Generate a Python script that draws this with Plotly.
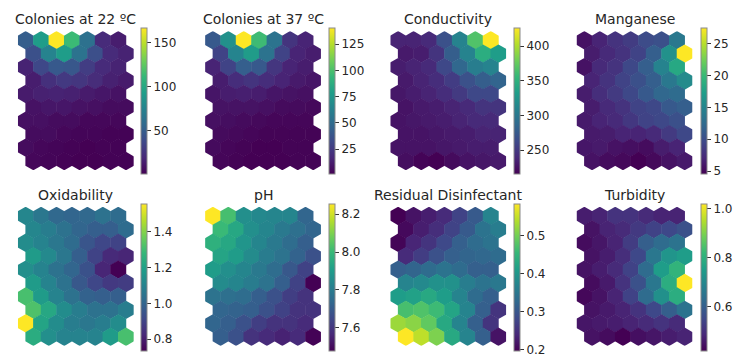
import math
import plotly.graph_objects as go

# ---------------- data (10 rows x 7 columns, top row first) ----------------
titles = ["Colonies at 22 ºC", "Colonies at 37 ºC", "Conductivity", "Manganese",
          "Oxidability", "pH", "Residual Disinfectant", "Turbidity"]

colonies_22 = [
    [50, 92, 166, 113, 62, 21, 14],
    [42, 75, 92, 64, 41, 21, 17],
    [17, 37, 47, 46, 31, 21, 17],
    [14, 24, 29, 27, 22, 16, 13],
    [13, 16, 17, 16, 13, 11, 9],
    [9, 11, 11, 9, 8, 6, 6],
    [8, 8, 6, 6, 4, 4, 4],
    [6, 6, 4, 3, 3, 2, 2],
    [6, 4, 3, 2, 1, 2, 2],
    [4, 3, 2, 1, 1, 2, 2],
]
colonies_37 = [
    [40, 71, 140, 96, 54, 22, 15],
    [29, 64, 77, 54, 29, 15, 12],
    [15, 29, 43, 40, 23, 15, 12],
    [12, 19, 22, 19, 15, 11, 9],
    [9, 12, 13, 12, 9, 8, 7],
    [8, 8, 8, 7, 5, 5, 4],
    [7, 6, 5, 4, 3, 3, 3],
    [5, 4, 3, 2, 2, 2, 2],
    [5, 3, 2, 1, 1, 2, 2],
    [3, 2, 1, 1, 1, 2, 2],
]
conductivity = [
    [236, 236, 240, 268, 310, 367, 426],
    [230, 232, 247, 278, 310, 346, 331],
    [232, 236, 240, 261, 285, 304, 310],
    [230, 236, 242, 253, 268, 278, 283],
    [228, 232, 236, 242, 251, 261, 261],
    [226, 230, 232, 236, 240, 247, 247],
    [226, 228, 230, 232, 236, 240, 240],
    [226, 226, 228, 230, 232, 236, 236],
    [226, 226, 226, 228, 230, 232, 232],
    [223, 217, 215, 221, 226, 228, 230],
]
manganese = [
    [5.6, 6.8, 7.9, 8.6, 9.8, 10.2, 13.7],
    [6.3, 7.2, 7.9, 9.1, 11.4, 16.0, 27.4],
    [5.6, 7.2, 7.9, 9.5, 11.4, 14.8, 18.2],
    [6.8, 7.9, 9.1, 10.2, 11.4, 13.7, 15.5],
    [6.3, 7.5, 8.4, 9.5, 10.9, 12.1, 12.5],
    [6.3, 7.2, 7.9, 9.1, 9.5, 10.9, 11.4],
    [6.1, 6.8, 7.2, 8.2, 9.1, 9.5, 10.2],
    [6.1, 6.3, 6.8, 6.8, 7.2, 8.4, 9.5],
    [5.9, 6.1, 5.6, 5.4, 5.2, 6.3, 6.8],
    [5.6, 5.2, 5.0, 4.5, 5.0, 5.6, 6.1],
]
oxidability = [
    [1.11, 1.06, 1.01, 1.00, 1.01, 1.04, 1.02],
    [1.11, 1.08, 1.04, 1.00, 0.98, 0.98, 1.02],
    [1.13, 1.10, 1.06, 1.02, 0.95, 0.91, 0.90],
    [1.18, 1.12, 1.06, 0.98, 0.90, 0.83, 0.82],
    [1.14, 1.10, 1.04, 1.00, 0.94, 0.82, 0.733],
    [1.18, 1.10, 1.04, 0.96, 0.91, 0.87, 0.88],
    [1.31, 1.18, 1.10, 1.04, 0.99, 0.98, 0.98],
    [1.32, 1.22, 1.13, 1.08, 1.04, 1.04, 1.08],
    [1.553, 1.21, 1.13, 1.08, 1.06, 1.08, 1.13],
    [1.24, 1.14, 1.10, 1.10, 1.10, 1.18, 1.31],
]
ph = [
    [8.253, 8.02, 7.86, 7.84, 7.83, 7.83, 7.73],
    [8.00, 7.94, 7.86, 7.83, 7.79, 7.76, 7.73],
    [7.97, 7.94, 7.88, 7.83, 7.79, 7.75, 7.71],
    [7.93, 7.90, 7.85, 7.80, 7.77, 7.72, 7.67],
    [7.90, 7.86, 7.83, 7.79, 7.75, 7.69, 7.63],
    [7.85, 7.83, 7.80, 7.77, 7.71, 7.63, 7.476],
    [7.77, 7.76, 7.75, 7.71, 7.67, 7.62, 7.59],
    [7.73, 7.72, 7.71, 7.67, 7.63, 7.59, 7.59],
    [7.73, 7.71, 7.67, 7.62, 7.59, 7.59, 7.57],
    [7.71, 7.67, 7.59, 7.57, 7.55, 7.57, 7.48],
]
residual_disinfectant = [
    [0.196, 0.216, 0.228, 0.243, 0.274, 0.305, 0.370],
    [0.205, 0.228, 0.247, 0.274, 0.305, 0.343, 0.359],
    [0.200, 0.236, 0.255, 0.282, 0.313, 0.332, 0.343],
    [0.243, 0.266, 0.293, 0.313, 0.320, 0.324, 0.332],
    [0.313, 0.320, 0.332, 0.343, 0.332, 0.313, 0.313],
    [0.370, 0.378, 0.390, 0.390, 0.359, 0.343, 0.351],
    [0.409, 0.416, 0.428, 0.409, 0.370, 0.332, 0.313],
    [0.467, 0.474, 0.459, 0.420, 0.370, 0.313, 0.255],
    [0.524, 0.513, 0.486, 0.428, 0.370, 0.313, 0.255],
    [0.582, 0.544, 0.505, 0.428, 0.370, 0.313, 0.216],
]
turbidity = [
    [0.466, 0.478, 0.508, 0.508, 0.490, 0.478, 0.478],
    [0.448, 0.478, 0.490, 0.520, 0.538, 0.550, 0.568],
    [0.436, 0.454, 0.478, 0.526, 0.598, 0.628, 0.646],
    [0.448, 0.466, 0.496, 0.550, 0.658, 0.730, 0.749],
    [0.448, 0.466, 0.490, 0.538, 0.628, 0.749, 0.809],
    [0.436, 0.460, 0.508, 0.568, 0.658, 0.791, 1.019],
    [0.430, 0.448, 0.478, 0.538, 0.628, 0.719, 0.791],
    [0.448, 0.460, 0.478, 0.508, 0.550, 0.598, 0.646],
    [0.454, 0.460, 0.466, 0.478, 0.490, 0.508, 0.490],
    [0.448, 0.436, 0.418, 0.442, 0.454, 0.466, 0.478],
]

tick_values = [
    [50, 100, 150],
    [25, 50, 75, 100, 125],
    [250, 300, 350, 400],
    [5, 10, 15, 20, 25],
    [0.8, 1.0, 1.2, 1.4],
    [7.6, 7.8, 8.0, 8.2],
    [0.2, 0.3, 0.4, 0.5],
    [0.6, 0.8, 1.0],
]
tick_formats = ["d", "d", "d", "d", ".1f", ".1f", ".1f", ".1f"]

panels = [colonies_22, colonies_37, conductivity, manganese,
          oxidability, ph, residual_disinfectant, turbidity]

# ---------------- layout geometry (pixels) ----------------
W, H = 734, 356
S = 15.5                       # px per hex width
R3 = math.sqrt(3)
n_rows, n_cols = 10, 7
x_lo, x_hi = -0.5, n_cols
y_hi = 1 / R3
y_lo = -(n_rows - 1) * R3 / 2 - 1 / R3
area_w = (x_hi - x_lo) * S
area_h = (y_hi - y_lo) * S

lefts = [18, 206, 392, 579]
tops = [31.3, 207.0]
cb_lefts = [142, 330, 516, 704]
cb_tops = [28.3, 204.2]
cb_lens = [146, 146.5]
title_ys = [18.5, 194.5]

fig = go.Figure()
annotations = []
layout_axes = {}

for k, (vals, name) in enumerate(zip(panels, titles)):
    pr, pc = divmod(k, 4)
    L, T = lefts[pc], tops[pr]
    xs, ys, cs = [], [], []
    for r in range(n_rows):
        for c in range(n_cols):
            xs.append(c + 0.5 * (r % 2))
            ys.append(-r * R3 / 2)
            cs.append(vals[r][c])
    ax = "" if k == 0 else str(k + 1)
    fig.add_trace(go.Scatter(
        x=xs, y=ys, mode="markers", xaxis="x" + ax, yaxis="y" + ax,
        hoverinfo="skip", showlegend=False,
        marker=dict(
            symbol="hexagon", size=2 * S / R3 + 0.5, color=cs,
            colorscale="Viridis", line=dict(width=0), opacity=1,
            showscale=True,
            colorbar=dict(
                x=cb_lefts[pc] / W, xanchor="left", xpad=0,
                y=1 - cb_tops[pr] / H, yanchor="top", ypad=0,
                lenmode="pixels", len=cb_lens[pr],
                thicknessmode="pixels", thickness=6,
                outlinewidth=1, outlinecolor="#8a8a8a",
                ticks="outside", ticklen=4, tickwidth=1, tickcolor="#333",
                tickvals=tick_values[k], tickformat=tick_formats[k],
                ticklabeloverflow="allow",
                tickfont=dict(family="DejaVu Sans", size=12, color="#262626"),
            ),
        ),
    ))
    layout_axes["xaxis" + ax] = dict(
        domain=[L / W, (L + area_w) / W], range=[x_lo, x_hi],
        visible=False, fixedrange=True)
    layout_axes["yaxis" + ax] = dict(
        domain=[1 - (T + area_h) / H, 1 - T / H], range=[y_lo, y_hi],
        visible=False, fixedrange=True)
    annotations.append(dict(
        text=name, x=(L + area_w / 2) / W, y=1 - title_ys[pr] / H,
        xref="paper", yref="paper", xanchor="center", yanchor="middle",
        showarrow=False,
        font=dict(family="DejaVu Sans", size=14, color="#262626")))

fig.update_layout(
    width=W, height=H, margin=dict(l=0, r=0, t=0, b=0),
    paper_bgcolor="white", plot_bgcolor="white",
    annotations=annotations, **layout_axes)

fig.write_html(
    "out.html",
    config={"displayModeBar": False},
    post_script="document.body.style.margin='0';document.body.style.overflow='hidden';",
)
